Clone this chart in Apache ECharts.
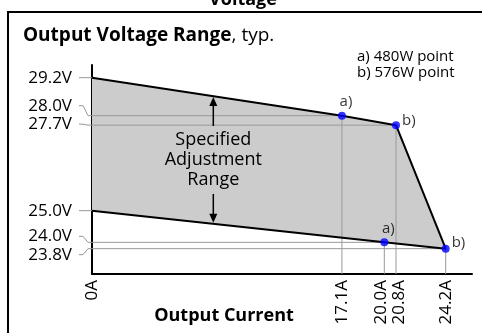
<!DOCTYPE html>
<html>
<head>
<meta charset="utf-8">
<script src="https://cdn.jsdelivr.net/npm/echarts@6/dist/echarts.min.js"></script>
<style>
  html, body { margin: 0; padding: 0; background: #fff; }
  #chart { width: 482px; height: 333px; }
</style>
</head>
<body>
<div id="chart"></div>
<script>
// Axis ticks (A and V)
const currentTicks = [0, 17.1, 20.0, 20.8, 24.2];
const voltageTicks = [29.2, 28.0, 27.7, 25.0, 24.0, 23.8];

// Boundaries of the adjustment range: upper limit and lower limit vs. output current
const upperLimit = [[0, 29.2], [17.1, 28.0], [20.8, 27.7]];
const lowerLimit = [[0, 25.0], [20.0, 24.0], [24.2, 23.8]];

// Power points on the boundaries
const powerPoints = [[17.1, 28.0], [20.8, 27.7], [20.0, 24.0], [24.2, 23.8]];
const powerPointTags = ['a)', 'b)', 'a)', 'b)'];
const powerLegend = ['a) 480W point', 'b) 576W point'];

const FONT = '"Open Sans", "Noto Sans", sans-serif';
const X_MIN = 0, X_MAX = 26, Y_MIN = 23, Y_MAX = 29.6;

// small vertical nudges for crowded tick labels (px)
const yLabelNudge = { '29.2': 0, '28.0': -10, '27.7': -1, '25.0': 0, '24.0': -6, '23.8': 6 };
const xLabelNudge = { '0': 0, '17.1': 0, '20.0': -3, '20.8': 3, '24.2': 0 };

const outline = upperLimit.concat(lowerLimit.slice().reverse());

function interp(line, x) {
  for (let i = 0; i < line.length - 1; i++) {
    const a = line[i], b = line[i + 1];
    if (x >= a[0] && x <= b[0]) return a[1] + (b[1] - a[1]) * (x - a[0]) / (b[0] - a[0]);
  }
  return line[line.length - 1][1];
}

const chart = echarts.init(document.getElementById('chart'), null, { renderer: 'canvas' });

const option = {
  animation: false,
  backgroundColor: '#fff',
  title: {
    text: '{b|Output Voltage Range}{n|, typ.}',
    left: 18, top: 21,
    textStyle: {
      rich: {
        b: { fontFamily: FONT, fontWeight: 'bold', fontSize: 19, color: '#000' },
        n: { fontFamily: FONT, fontWeight: 'normal', fontSize: 19, color: '#000' }
      }
    }
  },
  grid: { left: 92, top: 65, right: 10, bottom: 59 },
  xAxis: {
    type: 'value', min: X_MIN, max: X_MAX,
    axisLine: { show: true, onZero: false, lineStyle: { color: '#000', width: 2 } },
    axisTick: { show: false }, axisLabel: { show: false }, splitLine: { show: false }
  },
  yAxis: {
    type: 'value', min: Y_MIN, max: Y_MAX,
    axisLine: { show: true, onZero: false, lineStyle: { color: '#000', width: 2 } },
    axisTick: { show: false }, axisLabel: { show: false }, splitLine: { show: false }
  },
  graphic: [
    { type: 'rect', shape: { x: 8, y: 12, width: 520, height: 400 }, style: { fill: null, stroke: '#000', lineWidth: 2 }, z: 0 },
    { type: 'text', x: 243, y: 9, style: { text: 'Voltage', fontFamily: FONT, fontWeight: 'bold', fontSize: 18, fill: '#000', align: 'center', verticalAlign: 'bottom' } },
    { type: 'text', x: 357, y: 49, style: { text: powerLegend.join('\n'), fontFamily: FONT, fontSize: 15, lineHeight: 16, fill: '#000', align: 'left', verticalAlign: 'top' } },
    { type: 'text', x: 224, y: 316, style: { text: 'Output Current', fontFamily: FONT, fontWeight: 'bold', fontSize: 18, fill: '#000', align: 'center', verticalAlign: 'middle' } }
  ],
  series: [
    // shaded adjustment range
    {
      type: 'custom', z: 1, silent: true,
      data: [0],
      renderItem: function (params, api) {
        const pts = outline.map(p => api.coord(p));
        return { type: 'polygon', shape: { points: pts }, style: { fill: '#cccccc', stroke: null } };
      }
    },
    // gray guide lines from the power points to the axes
    {
      type: 'custom', z: 2, silent: true,
      data: powerPoints,
      renderItem: function (params, api) {
        const x = api.value(0), y = api.value(1);
        const p = api.coord([x, y]);
        const pl = api.coord([X_MIN, y]);
        const pb = api.coord([x, Y_MIN]);
        const st = { stroke: '#999', lineWidth: 1, fill: null };
        return {
          type: 'group', children: [
            { type: 'line', shape: { x1: pl[0], y1: pl[1], x2: p[0], y2: p[1] }, style: st },
            { type: 'line', shape: { x1: p[0], y1: p[1], x2: pb[0], y2: pb[1] }, style: st }
          ]
        };
      }
    },
    // limit lines
    {
      type: 'line', z: 3, silent: true,
      data: outline,
      symbol: 'none',
      lineStyle: { color: '#000', width: 2 }
    },
    // power points
    {
      type: 'scatter', z: 5, silent: true,
      data: powerPoints.map((p, i) => ({
        value: p, name: powerPointTags[i],
        label: i % 2 === 0
          ? { position: 'top', distance: 2, offset: [4, 0] }
          : { position: 'right', distance: 2, offset: [0, i === 3 ? -6 : -4] }
      })),
      symbol: 'circle', symbolSize: 8,
      itemStyle: { color: '#0000ff' },
      label: { show: true, formatter: '{b}', fontFamily: FONT, fontSize: 15, color: '#000' }
    },
    // voltage tick labels with leader lines
    {
      type: 'custom', z: 4, silent: true,
      data: voltageTicks,
      renderItem: function (params, api) {
        const v = api.value(0);
        const key = v.toFixed(1);
        const p = api.coord([X_MIN, v]);
        const ly = p[1] + (yLabelNudge[key] || 0);
        return {
          type: 'group', children: [
            { type: 'polyline', shape: { points: [[p[0] - 13, ly], [p[0] - 9, ly], [p[0] - 4, p[1]], [p[0], p[1]]] }, style: { stroke: '#999', lineWidth: 1, fill: null } },
            { type: 'text', x: p[0] - 20, y: ly, style: { text: key + 'V', fontFamily: FONT, fontSize: 17, fill: '#000', align: 'right', verticalAlign: 'middle' } }
          ]
        };
      }
    },
    // current tick labels (vertical)
    {
      type: 'custom', z: 4, silent: true,
      data: currentTicks,
      renderItem: function (params, api) {
        const c = api.value(0);
        const key = c === 0 ? '0' : c.toFixed(1);
        const p = api.coord([c, Y_MIN]);
        return {
          type: 'text', x: p[0] + (xLabelNudge[key] || 0), y: p[1] + 6, rotation: Math.PI / 2,
          style: { text: key + 'A', fontFamily: FONT, fontSize: 17, fill: '#000', align: 'right', verticalAlign: 'middle' }
        };
      }
    },
    // adjustment range annotation with double arrow
    {
      type: 'custom', z: 4, silent: true,
      data: [8.3],
      renderItem: function (params, api) {
        const x = api.value(0);
        const top = api.coord([x, interp(upperLimit, x)]);
        const bot = api.coord([x, interp(lowerLimit, x)]);
        const cx = top[0];
        const mid = (top[1] + bot[1]) / 2;
        const tTop = mid - 34, tBot = mid + 34;
        const ah = 9, aw = 4;
        const st = { stroke: '#000', lineWidth: 1.5, fill: null };
        return {
          type: 'group', children: [
            { type: 'line', shape: { x1: cx, y1: top[1] + ah, x2: cx, y2: tTop }, style: st },
            { type: 'polygon', shape: { points: [[cx, top[1] + 1], [cx - aw, top[1] + ah + 1], [cx + aw, top[1] + ah + 1]] }, style: { fill: '#000' } },
            { type: 'line', shape: { x1: cx, y1: tBot, x2: cx, y2: bot[1] - ah }, style: st },
            { type: 'polygon', shape: { points: [[cx, bot[1] - 1], [cx - aw, bot[1] - ah - 1], [cx + aw, bot[1] - ah - 1]] }, style: { fill: '#000' } },
            { type: 'text', x: cx, y: mid, style: { text: 'Specified\nAdjustment\nRange', fontFamily: FONT, fontSize: 18, lineHeight: 20, fill: '#000', align: 'center', verticalAlign: 'middle' } }
          ]
        };
      }
    }
  ]
};

chart.setOption(option);
</script>
</body>
</html>
